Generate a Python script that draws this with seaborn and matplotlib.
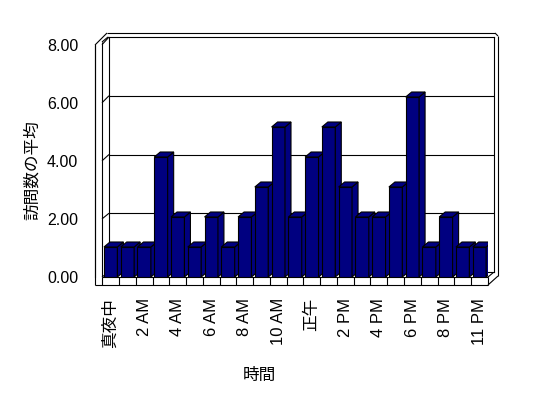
import numpy as np
import pandas as pd
import matplotlib
matplotlib.use("Agg")
import matplotlib.pyplot as plt
from matplotlib.patches import Polygon
import seaborn as sns

# -------------------------------
# DATOS

horas = ['真夜中', '1 AM', '2 AM', '3 AM', '4 AM', '5 AM', '6 AM', '7 AM',
         '8 AM', '9 AM', '10 AM', '11 AM', '正午', '1 PM', '2 PM', '3 PM',
         '4 PM', '5 PM', '6 PM', '7 PM', '8 PM', '9 PM', '11 PM']
visitas = [1, 1, 1, 4, 2, 1, 2, 1, 2, 3, 5, 2, 4, 5, 3, 2, 2, 3, 6, 1, 2, 1, 1]
ticks_y = [0, 2, 4, 6, 8]

df = pd.DataFrame({'hora': horas, 'visitas': visitas})

# -------------------------------
# ESTILO

sns.set_style("white")
plt.rcParams['font.family'] = ['Liberation Sans', 'Noto Sans CJK JP', 'DejaVu Sans']
plt.rcParams['text.color'] = 'black'
plt.rcParams['xtick.color'] = 'black'
plt.rcParams['ytick.color'] = 'black'

W, H = 548, 398
fig = plt.figure(figsize=(W / 100, H / 100), dpi=100)
NAVY = '#000080'
LW = 0.8


def caja(x0, y0, x1, y1):
    # pixeles (y hacia abajo) -> fraccion de figura
    return [x0 / W, 1 - y1 / H, (x1 - x0) / W, (y1 - y0) / H]


# capa de fondo en pixeles para la caja 3D
bg = fig.add_axes([0, 0, 1, 1])
bg.set_xlim(0, W)
bg.set_ylim(H, 0)
bg.axis('off')
bg.set_zorder(0)

# pared del fondo con la cuadricula
pared = fig.add_axes(caja(109, 37, 494, 272))
pared.set_zorder(1)
pared.set_ylim(0, 8)
pared.set_yticks(ticks_y[1:-1])
pared.set_xticks([])
pared.tick_params(left=False, labelleft=False)
pared.grid(axis='y', color='black', lw=LW)
for s in pared.spines.values():
    s.set_color('black')
    s.set_linewidth(LW)

# escala del frente (etiquetas del eje y)
escala = fig.add_axes(caja(95, 44.7, 102, 277))
escala.set_zorder(1)
escala.patch.set_alpha(0)
escala.set_ylim(0, 8)
escala.set_yticks(ticks_y)
escala.set_yticklabels([f"{v:.2f}" for v in ticks_y], fontsize=11.5)
escala.set_xticks([])
escala.tick_params(axis='y', direction='in', length=5, width=LW, pad=12)
for k, s in escala.spines.items():
    s.set_visible(k == 'left')
    s.set_color('black')
    s.set_linewidth(LW)

# lineas de la caja 3D
lineas = [
    [(95, 45), (95, 285)],
    [(102, 42), (102, 277)],
    [(95, 45), (107, 33)],
    [(102, 42), (108, 37)],
    [(107, 33), (495, 33)],
    [(495, 33), (498, 36)],
    [(498, 36), (498, 276)],
    [(498, 276), (488, 285)],
    [(494, 272), (488, 277)],
    [(95, 285), (488, 285)],
    [(102, 277), (488, 277)],
]
for v in ticks_y:
    yf = 277 - v * (277 - 44.7) / 8
    yb = 272 - v * (272 - 37) / 8
    lineas.append([(102, yf), (109, yb)])
for seg in lineas:
    (xa, ya), (xb, yb2) = seg
    bg.plot([xa, xb], [ya, yb2], color='black', lw=LW, solid_capstyle='butt')

# -------------------------------
# BARRAS

ax = fig.add_axes(caja(102.3, 37, 487.8, 277))
ax.set_zorder(2)
ax.patch.set_alpha(0)
sns.barplot(data=df, x='hora', y='visitas', color=NAVY, saturation=1,
            width=0.8, edgecolor='black', linewidth=LW, ax=ax)
ax.set_xlim(-0.5, len(horas) - 0.5)
ax.set_ylim(0, 8)
sns.despine(ax=ax, left=True, bottom=True)
ax.set_yticks([])

# profundidad de las barras en unidades de datos
bb = ax.get_window_extent()
px_x = bb.width / (len(horas))
px_y = bb.height / 8
dx, dy = 6 / px_x, 5 / px_y
for i, p in enumerate(ax.patches):
    x0, w, h = p.get_x(), p.get_width(), p.get_height()
    p.set_zorder(3 + 2 * i)
    top = Polygon([(x0, h), (x0 + dx, h + dy), (x0 + w + dx, h + dy), (x0 + w, h)],
                  facecolor=NAVY, edgecolor='black', lw=LW, zorder=4 + 2 * i)
    side = Polygon([(x0 + w, 0), (x0 + w, h), (x0 + w + dx, h + dy), (x0 + w + dx, dy)],
                   facecolor=NAVY, edgecolor='black', lw=LW, zorder=4 + 2 * i)
    ax.add_patch(side)
    ax.add_patch(top)

# divisiones del piso
ax.vlines(np.arange(len(horas) + 1) - 0.5, -8 / px_y, 0, color='black',
          lw=LW, clip_on=False)

ax.set_xticks(range(0, len(horas), 2))
ax.set_xticklabels(horas[::2], rotation=90, fontsize=12)
ax.tick_params(axis='x', length=0, pad=15)
ax.set_xlabel('')
ax.set_ylabel('')

fig.text(259 / W, 1 - 375 / H, '時間', ha='center', va='center', fontsize=12)
fig.text(31.7 / W, 1 - 170 / H, '訪問数の平均', ha='center', va='center',
         rotation=90, fontsize=12)

fig.savefig('out.png', dpi=100)
